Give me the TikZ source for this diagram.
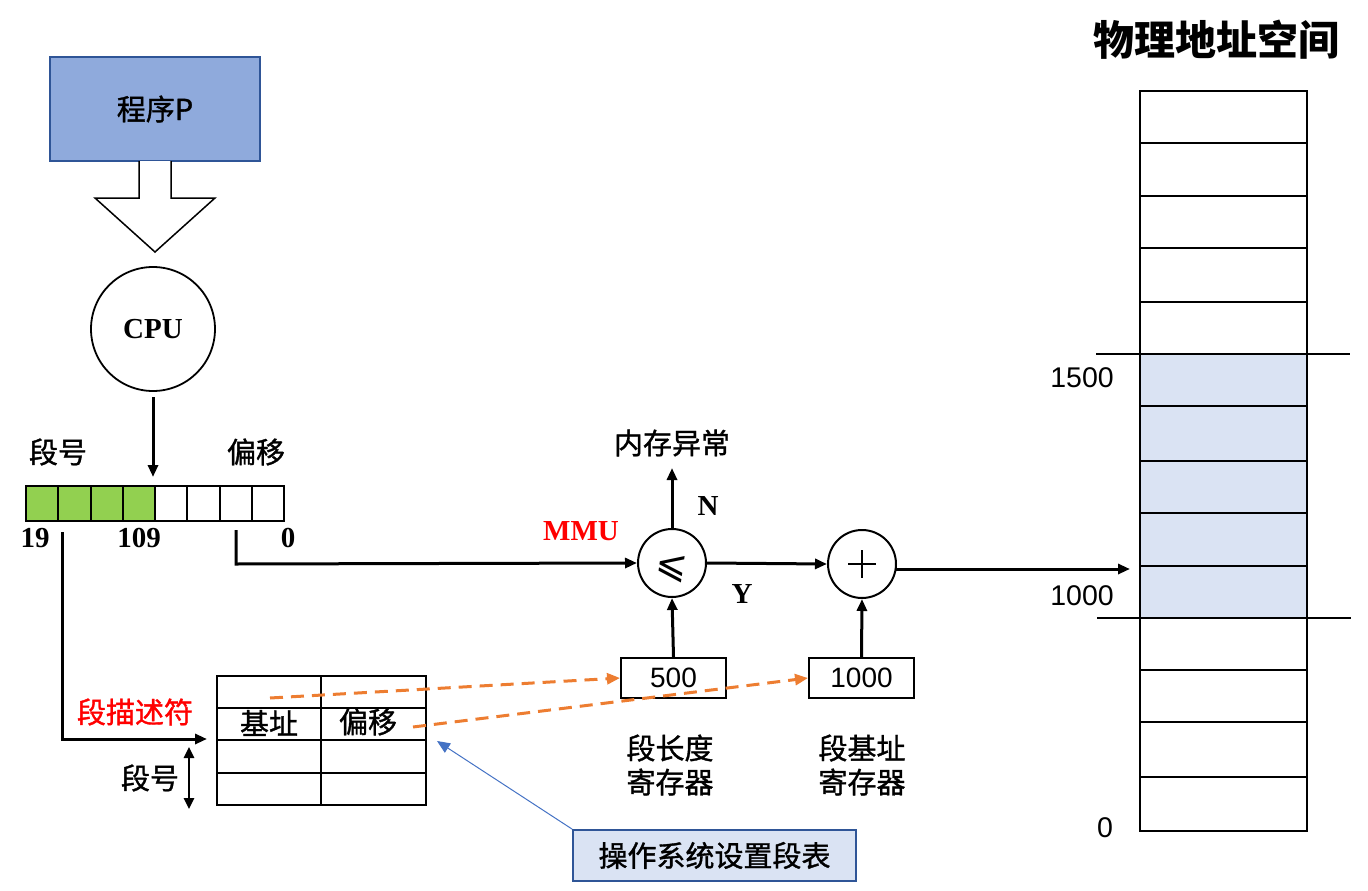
\documentclass[tikz,border=0pt]{standalone}
\usepackage{fontspec}
\setmainfont{Liberation Serif}
\setsansfont{Liberation Sans}
\newfontfamily\cjk[FakeBold=1.2]{Noto Sans CJK SC}
\newfontfamily\cjkb{Noto Sans CJK SC}
\newfontfamily\symfont{DejaVu Sans}
\usetikzlibrary{arrows.meta}
\definecolor{progfill}{HTML}{8FAADC}
\definecolor{darkblue}{HTML}{2F5597}
\definecolor{lightblue}{HTML}{DAE3F3}
\definecolor{bitgreen}{HTML}{92D050}
\definecolor{orangeline}{HTML}{ED7D31}
\definecolor{blueline}{HTML}{4472C4}
\tikzset{
  cn/.style={font=\cjk\fontsize{29}{34}\selectfont, inner sep=0pt},
  num/.style={font=\sffamily\fontsize{28.5}{32}\selectfont, inner sep=0pt},
  ser/.style={font=\bfseries\fontsize{29}{32}\selectfont, inner sep=0pt},
  arr/.style={-{Triangle[length=12pt,width=10pt]}, line width=3pt},
  regbox/.style={draw, line width=2pt, minimum width=105pt, minimum height=40pt, inner sep=0pt, font=\sffamily\fontsize{28}{32}\selectfont},
  opcircle/.style={draw, circle, line width=2pt, minimum size=68pt, inner sep=0pt},
  dasharr/.style={orangeline, line width=3pt, dash pattern=on 13pt off 8pt, -{Triangle[length=13pt,width=11pt]}},
}
\begin{document}
\begin{tikzpicture}[x=1pt,y=-1pt]
\useasboundingbox (0,0) rectangle (1368,891);

% program box
\node[draw=darkblue, fill=progfill, line width=2pt, minimum width=210pt, minimum height=104pt, inner sep=0pt,
      font=\cjk\fontsize{29}{34}\selectfont] (prog) at (155,109) {程序P};
% block arrow
\draw[line width=1.5pt, fill=white] (139,161) -- (139,198) -- (95,198) -- (155,252) -- (215,198) -- (171,198) -- (171,161);

% CPU
\node[draw, circle, line width=1.8pt, minimum size=124pt, inner sep=0pt, font=\bfseries\fontsize{29}{32}\selectfont] (cpu) at (153,329) {CPU};
\coordinate (regtop) at (153,477);
\draw[arr] (153,397) -- (regtop);

% labels above register
\node[cn] (lblseg) at (58,452) {段号};
\node[cn] (lbloff) at (256,452) {偏移};

% bit register
\foreach \i in {0,1,2,3} {
  \fill[bitgreen] ({26+\i*32.25},486) rectangle ({26+(\i+1)*32.25},521);
}
\node[draw, line width=2pt, minimum width=258pt, minimum height=35pt, inner sep=0pt] (reg) at (155,503.5) {};
\foreach \i in {1,...,7} {
  \draw[line width=2pt] ({26+\i*32.25},486) -- ({26+\i*32.25},521);
}
\node[ser] (b19) at (35,538) {19};
\node[ser] (b109) at (139,538) {109};
\node[ser] (b0) at (288,538) {0};

% MMU
\node[ser, text=red] (mmu) at (581,531) {MMU};

% comparator & adder
\node[opcircle] (cmp) at (672,563) {};
\node[font=\symfont\fontsize{38}{38}\selectfont, inner sep=0pt, rotate=-8] (cmpsym) at (671,568) {⩽};
\node[opcircle] (add) at (862,564) {};
\draw[line width=2.2pt] (848,564) -- (876,564) (862,550) -- (862,578);

% offset line
\coordinate (offstart) at (236,530);
\draw[arr] (offstart) -- (236,564) -- (cmp.west);

% exception
\node[cn] (exc) at (672,443) {内存异常};
\draw[arr] (cmp.north) -- (672,468);
\node[ser] (nlbl) at (708,506) {N};
\node[ser] (ylbl) at (742,594) {Y};
\draw[arr] (cmp.east) -- (add.west);

% to memory
\coordinate (memin) at (1130,569);
\draw[arr] (896,569) -- (memin);

% registers
\node[regbox] (lenreg) at (673.5,678) {500};
\node[regbox] (basereg) at (861.5,678) {1000};
\draw[arr] (lenreg.north) -- (cmp.south);
\draw[arr] (basereg.north) -- (add.south);
\node[cn, align=center] (lenlbl) at (670,765) {段长度\\寄存器};
\node[cn, align=center] (baselbl) at (862,765) {段基址\\寄存器};

% segment table
\node[draw, line width=2pt, minimum width=209pt, minimum height=129pt, inner sep=0pt] (segtab) at (321.5,740.5) {};
\draw[line width=2pt] (321,676) -- (321,805);
\foreach \y in {708,740,773} { \draw[line width=2pt] (217,\y) -- (426,\y); }
\node[cn] (tbase) at (269,723) {基址};
\node[cn] (toff) at (368,722) {偏移};

% segment number path
\coordinate (segstart) at (62,532);
\draw[arr] (segstart) -- (62,739) -- (207,739);
\node[cn, text=red] (desc) at (135,712) {段描述符};
\node[cn] (segno) at (150,778) {段号};
\draw[line width=2.5pt, {Triangle[length=11pt,width=10pt]}-{Triangle[length=11pt,width=10pt]}] (189,747) -- (189,809);

% orange dashed
\draw[dasharr] (270,698) -- (lenreg.west);
\draw[dasharr] (413,727) -- (basereg.west);

% OS box
\node[draw=darkblue, fill=lightblue, line width=1.8pt, minimum width=283pt, minimum height=51pt, inner sep=0pt,
      font=\cjk\fontsize{29}{34}\selectfont] (os) at (714.5,855.5) {操作系统设置段表};
\draw[blueline, line width=1pt, -{Triangle[length=13pt,width=11pt]}] (os.north west) -- (437,741);

% physical memory
\node[font=\cjkb\bfseries\fontsize{41}{45}\selectfont, inner sep=0pt] (title) at (1216,40) {物理地址空间};
\fill[lightblue] (1140,354) rectangle (1307,618);
\node[draw, line width=2pt, minimum width=167pt, minimum height=740pt, inner sep=0pt] (mem) at (1223.5,461) {};
\foreach \y in {143,196,248,302,406,461,513,566,670,722,777} { \draw[line width=2pt] (1140,\y) -- (1307,\y); }
\draw[line width=2.5pt] (1096,354) -- (1350,354);
\draw[line width=2.5pt] (1097,618) -- (1351,618);
\node[num] (a1500) at (1082,378) {1500};
\node[num] (a1000) at (1082,596) {1000};
\node[num] (a0) at (1105,828) {0};
\end{tikzpicture}
\end{document}
